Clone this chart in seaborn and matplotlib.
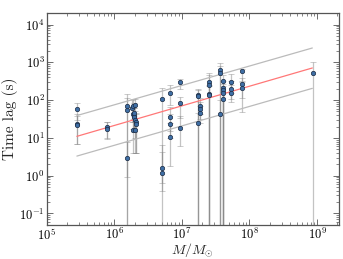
import numpy as np
import pandas as pd
import matplotlib
matplotlib.use('Agg')
import matplotlib.pyplot as plt
import seaborn as sns

# ─── Data ────────────────────────────────────────────────────
mass = [2.85e5, 2.85e5, 2.85e5,
        7.9e5, 7.9e5,
        1.52e6, 1.52e6, 1.52e6,
        1.85e6, 1.92e6, 2.02e6, 1.90e6, 1.95e6, 1.98e6, 2.05e6, 2.07e6, 2.08e6,
        1.88e6, 2.04e6, 1.97e6,
        5.1e6, 5.1e6, 5.1e6,
        6.7e6, 6.7e6, 6.7e6, 6.7e6,
        9.3e6, 9.3e6, 9.3e6,
        1.72e7, 1.72e7, 1.72e7,
        1.85e7, 1.85e7, 1.85e7,
        2.55e7, 2.55e7, 2.55e7, 2.55e7,
        3.65e7, 3.65e7, 3.65e7,
        4.05e7, 4.05e7, 4.05e7, 4.05e7, 4.05e7,
        5.4e7, 5.4e7, 5.4e7,
        7.7e7, 7.7e7, 7.7e7,
        8.7e8]
lag = [59, 24, 22,
       20, 17.6,
       72, 56, 3.0,
       62, 72, 73, 42, 37, 36, 30, 26, 24,
       16, 16, 47,
       105, 1.64, 1.2,
       156, 35, 24, 10.5,
       294, 83, 18.6,
       138, 128, 24.3,
       72, 57, 45,
       300, 258, 149, 136,
       615, 514, 42,
       316, 213, 185, 151, 109,
       300, 200, 157,
       574, 264, 208,
       514]
err_lo = [30, 17, 15,
          10, 8,
          80, 70, 2.1,
          35, 40, 40, 25, 22, 22, 20, 22, 20,
          12, 12, 30,
          120, 1.0, 0.8,
          80, 20, 14, 8.7,
          100, 50, 12.5,
          150, 140, 27,
          30, 25, 20,
          330, 280, 170, 150,
          650, 550, 50,
          340, 230, 200, 170, 120,
          150, 90, 70,
          250, 150, 160,
          550]
err_hi = [26, 20, 15,
          7, 8,
          70, 60, 5,
          40, 35, 35, 25, 25, 25, 20, 20, 20,
          10, 10, 35,
          100, 5, 3,
          94, 30, 20, 15,
          70, 40, 20,
          60, 60, 20,
          40, 30, 25,
          220, 200, 100, 100,
          350, 300, 60,
          150, 100, 90, 80, 60,
          200, 120, 90,
          100, 120, 100,
          500]

# fit line and +/- scatter band end points
fit_mass = [2.8e5, 8.5e8]
fit_lag = [11.0, 710.0]
upper_lag = [39.0, 2400.0]
lower_lag = [3.3, 205.0]

df = pd.DataFrame({'mass': mass, 'lag': lag})

# ─── Style ───────────────────────────────────────────────────
sns.set_style('ticks')
plt.rcParams['font.family'] = ['cmr10', 'DejaVu Serif']
plt.rcParams['mathtext.fontset'] = 'cm'
plt.rcParams['axes.formatter.use_mathtext'] = True
plt.rcParams['axes.unicode_minus'] = False

fig = plt.figure(figsize=(3.43, 2.59), dpi=100)
ax = fig.add_axes([0.136, 0.132, 0.852, 0.817])

ax.errorbar(mass, lag, yerr=[err_lo, err_hi], fmt='none',
            ecolor='#888888', elinewidth=0.9, capsize=2, capthick=0.6,
            alpha=0.5, zorder=1)

sns.lineplot(x=fit_mass, y=fit_lag, ax=ax, color='#ff7777', lw=0.9, zorder=2)
sns.lineplot(x=fit_mass, y=upper_lag, ax=ax, color='#bbbbbb', lw=0.9, zorder=2)
sns.lineplot(x=fit_mass, y=lower_lag, ax=ax, color='#bbbbbb', lw=0.9, zorder=2)

sns.scatterplot(data=df, x='mass', y='lag', ax=ax, s=10, color='#3f6fa5',
                edgecolor='#1c2c44', linewidth=0.5, zorder=3)

ax.set_xscale('log')
ax.set_yscale('log')
ax.set_xlim(1e5, 2.1e9)
ax.set_ylim(0.05, 2e4)

ax.tick_params(which='both', direction='in', top=True, right=True,
               colors='#555555', labelcolor='black', labelsize=9, pad=1.5)
ax.tick_params(which='major', length=4, width=0.6)
ax.tick_params(which='minor', length=2, width=0.5)
for s in ax.spines.values():
    s.set_color('#555555')
    s.set_linewidth(0.9)

ax.set_xlabel(r'$M/M_{\odot}$', fontsize=10, labelpad=-1.5)
ax.set_ylabel('Time lag (s)', fontsize=11, labelpad=1)

fig.savefig('out.png', dpi=100)
plt.close(fig)
